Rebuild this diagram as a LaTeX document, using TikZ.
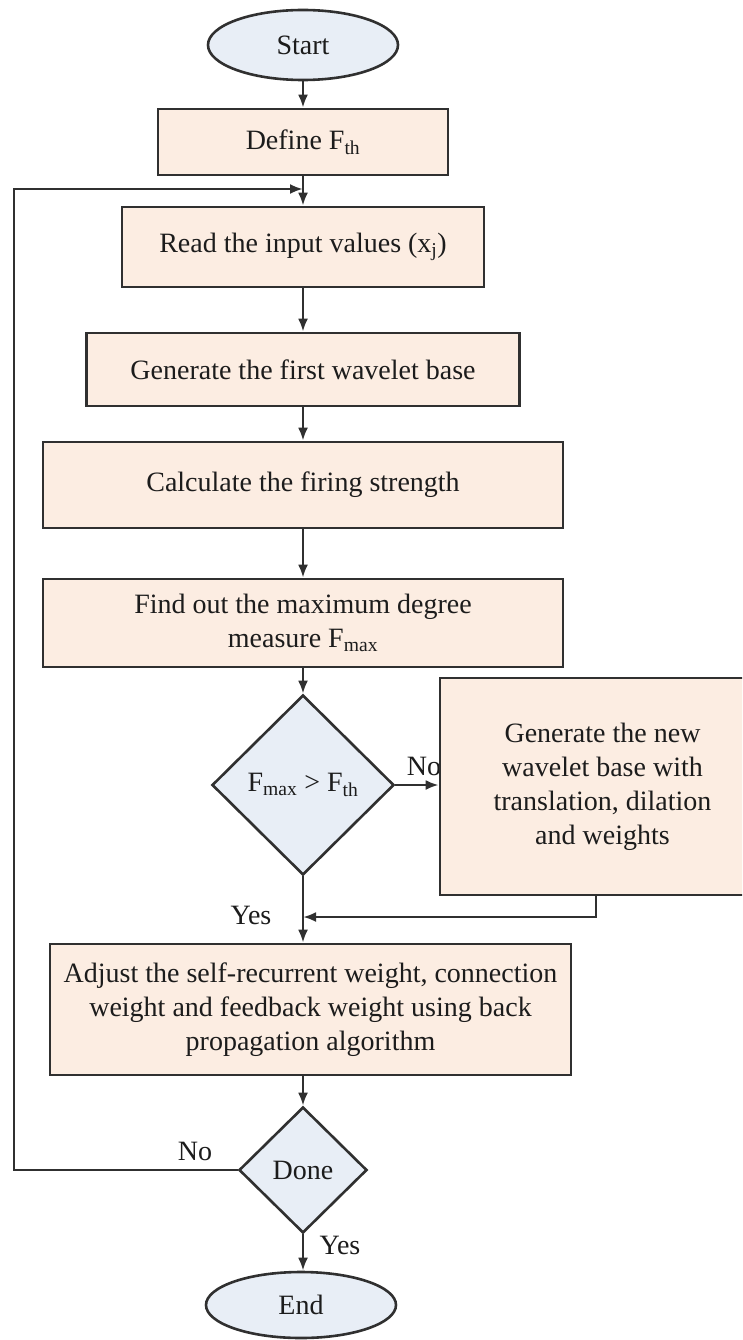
\documentclass[tikz,border=0pt]{standalone}
\usepackage{fontspec}
\setmainfont{Liberation Serif}
\usetikzlibrary{shapes.geometric,arrows.meta}

\definecolor{boxfill}{RGB}{252,237,226}
\definecolor{termfill}{RGB}{232,238,246}
\definecolor{edge}{RGB}{48,48,48}
\definecolor{ink}{RGB}{28,28,28}

\tikzset{
  base/.style={draw=edge, line width=2.6pt, inner sep=0pt, align=center,
               text=ink, font=\fontsize{28}{34}\selectfont},
  procbox/.style={base, rectangle, fill=boxfill},
  terminal/.style={base, ellipse, fill=termfill, minimum width=190pt, minimum height=70pt},
  decision/.style={base, diamond, aspect=1, fill=termfill},
  lbl/.style={inner sep=0pt, text=ink, font=\fontsize{28}{34}\selectfont},
  arr/.style={draw=edge, line width=2.6pt, -{Latex[length=13pt,width=10pt]}},
  link/.style={draw=edge, line width=2.6pt}
}

\begin{document}
\begin{tikzpicture}[x=1pt, y=-1pt]
\clip (0,0) rectangle (742,1340);
\fill[white] (0,0) rectangle (742,1340);

% main column
\node[terminal] (start) at (303,45) {Start};
\node[procbox, minimum width=290pt, minimum height=66pt] (define) at (303,142) {Define F\textsubscript{th}};
\node[procbox, minimum width=362pt, minimum height=80pt] (read) at (303,247) {Read the input values (x\textsubscript{j})};
\node[procbox, minimum width=433pt, minimum height=73pt] (gen1) at (303,369.5) {Generate the first wavelet base};
\node[procbox, minimum width=520pt, minimum height=86pt] (calc) at (303,485) {Calculate the firing strength};
\node[procbox, minimum width=520pt, minimum height=88pt] (find) at (303,623) {Find out the maximum degree\\measure F\textsubscript{max}};
\node[decision, minimum width=182pt, minimum height=180pt] (dec) at (303,785) {F\textsubscript{max} > F\textsubscript{th}};

% branch label sits under the side box
\node[lbl] (lno) at (424,766) {No};
\node[procbox, minimum width=325pt, minimum height=217pt] (newb) at (602.5,786.5)
  {Generate the new\\wavelet base with\\translation, dilation\\and weights};

\node[procbox, minimum width=521pt, minimum height=131pt] (adjust) at (310.5,1009.5)
  {Adjust the self-recurrent weight, connection\\weight and feedback weight using back\\propagation algorithm};
\node[decision, minimum width=128pt, minimum height=126pt] (done) at (303,1170) {Done};
\node[terminal, minimum height=66pt] (end) at (301,1305) {End};

% labels
\node[lbl] (lyes1) at (251,915) {Yes};
\node[lbl] (lno2) at (195,1151) {No};
\node[lbl] (lyes2) at (340,1245) {Yes};

% helper points
\coordinate (join) at (303,189);
\coordinate (leftx) at (14,0);
\coordinate (merge) at (303,917);
\coordinate (retx) at (596,0);

% connectors
\draw[arr] (start) -- (define);
\draw[arr] (define) -- (read);
\draw[arr] (read) -- (gen1.north -| read.south);
\draw[arr] (gen1.south -| read.south) -- (calc);
\draw[arr] (calc) -- (find);
\draw[arr] (find) -- (dec);
\draw[arr] (dec.east) -- (dec.east -| newb.west);
\draw[arr] (dec.south) -- (dec.south |- adjust.north);
\draw[arr] (newb.south -| retx) |- (merge);
\draw[arr] (done.north |- adjust.south) -- (done.north);
\draw[arr] (done.south) -- (done.south |- end.north);
\draw[arr] (done.west) -- (done.west -| leftx) |- (join);
\end{tikzpicture}
\end{document}
